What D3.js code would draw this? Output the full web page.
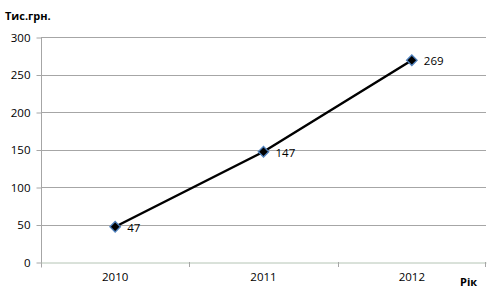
<!DOCTYPE html>
<html>
<head>
<meta charset="utf-8">
<script src="https://cdn.jsdelivr.net/npm/d3@7"></script>
<style>
  body { margin: 0; background: #fff; }
  text { font-family: "Open Sans", "Noto Sans", sans-serif; }
</style>
</head>
<body>
<script>
var years = ["2010", "2011", "2012"]
var values = [47, 147, 269]
var yTicks = [0, 50, 100, 150, 200, 250, 300]

var width = 501, height = 294
var plotLeft = 41, plotRight = 486, plotTop = 37, plotBottom = 262

var svg = d3.select("body").append("svg")
            .attr("width", width)
            .attr("height", height)

var x = d3.scaleBand().domain(years).range([plotLeft, plotRight])
var y = d3.scaleLinear().domain([0, 300]).range([plotBottom, plotTop])

// horizontal grid
svg.append("g").selectAll("line")
   .data(yTicks.filter(function(d) { return d > 0 }))
   .enter().append("line")
   .attr("x1", plotLeft).attr("x2", plotRight)
   .attr("y1", function(d) { return Math.round(y(d)) + 0.5 })
   .attr("y2", function(d) { return Math.round(y(d)) + 0.5 })
   .attr("stroke", "#a6a6a6").attr("stroke-width", 1)

// y axis
var yAxis = svg.append("g")
   .attr("transform", "translate(" + (plotLeft + 0.5) + ",0.5)")
   .call(d3.axisLeft(y).tickValues(yTicks).tickSize(5).tickPadding(6))
yAxis.select(".domain").attr("stroke", "#a6a6a6").attr("d", "M0," + plotTop + "V" + (plotBottom + 5))
yAxis.selectAll(".tick line").attr("stroke", "#a6a6a6")
yAxis.selectAll("text").attr("font-size", "11.5px").attr("fill", "#000")

// x axis
var xAxis = svg.append("g")
   .attr("transform", "translate(0," + (plotBottom + 0.5) + ")")
   .call(d3.axisBottom(x).tickSize(0).tickPadding(10))
xAxis.select(".domain").attr("stroke", "#b4c4b4")
xAxis.selectAll("text").attr("font-size", "11.5px").attr("fill", "#000")
// category separators
svg.append("g").selectAll("line")
   .data(years.slice(1).concat(["end"]))
   .enter().append("line")
   .attr("x1", function(d) { return d == "end" ? plotRight - 0.5 : Math.round(x(d)) + 0.5 })
   .attr("x2", function(d) { return d == "end" ? plotRight - 0.5 : Math.round(x(d)) + 0.5 })
   .attr("y1", plotBottom).attr("y2", plotBottom + 5)
   .attr("stroke", "#a6a6a6")

var cx = function(d, i) { return x(years[i]) + x.bandwidth() / 2 }

// line
svg.append("path")
   .datum(values)
   .attr("d", d3.line().x(cx).y(function(d) { return y(d) }))
   .attr("fill", "none").attr("stroke", "#000").attr("stroke-width", 2.5)

// markers
svg.append("g").selectAll("path")
   .data(values)
   .enter().append("path")
   .attr("d", d3.symbol().type(d3.symbolDiamond2).size(70))
   .attr("transform", function(d, i) { return "translate(" + cx(d, i) + "," + y(d) + ")" })
   .attr("fill", "#000").attr("stroke", "#4f81bd").attr("stroke-width", 1.3)

// data labels
svg.append("g").selectAll("text")
   .data(values)
   .enter().append("text")
   .attr("x", function(d, i) { return cx(d, i) + 12 })
   .attr("y", function(d) { return y(d) + 5 })
   .attr("font-size", "11.5px")
   .text(function(d) { return d })

svg.append("text").attr("x", 5).attr("y", 20)
   .attr("font-size", "11px").attr("font-weight", "bold")
   .text("Тис.грн.")
svg.append("text").attr("x", 460).attr("y", 286)
   .attr("font-size", "11px").attr("font-weight", "bold")
   .text("Рік")
</script>
</body>
</html>
